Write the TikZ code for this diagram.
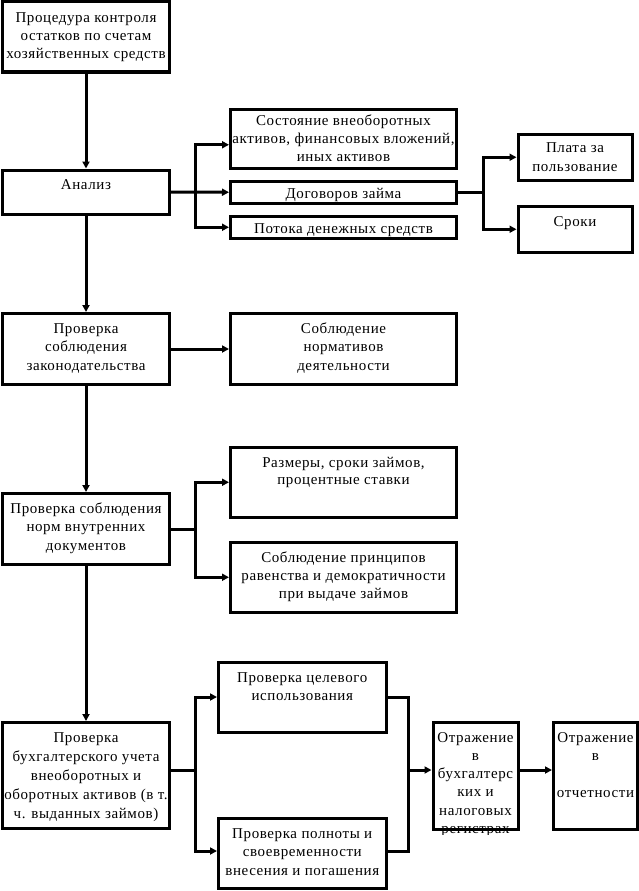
\documentclass[tikz,border=0pt]{standalone}
\usepackage{fontspec}
\setmainfont{Liberation Serif}[LetterSpace=4]
\usetikzlibrary{arrows.meta,calc}
\newcommand\tstr{\rule{0pt}{12pt}}
\begin{document}
\begin{tikzpicture}[x=1pt,y=-1pt,
  box/.style={draw, line width=3pt, inner sep=0pt, rectangle},
  txt/.style={anchor=north, inner sep=0pt, align=center},
  ls/.style={font=\fontsize{15}{#1}\selectfont},
  conn/.style={line width=3pt},
  arr/.style={conn, -{Triangle[length=7pt,width=7pt]}}]
\useasboundingbox (0,0) rectangle (639,891);

% boxes
\node[box, minimum width=167pt, minimum height=70.5pt] (b1) at (86,36.75) {};
\node[box, minimum width=167pt, minimum height=44pt] (b2) at (86,192) {};
\node[box, minimum width=226pt, minimum height=58.5pt] (b3) at (343.5,138.75) {};
\node[box, minimum width=226pt, minimum height=21.5pt] (b4) at (343.5,192.25) {};
\node[box, minimum width=226pt, minimum height=21.5pt] (b5) at (343.5,227.25) {};
\node[box, minimum width=114pt, minimum height=46.5pt] (b6) at (575,157.25) {};
\node[box, minimum width=114pt, minimum height=45.5pt] (b7) at (575,229.25) {};
\node[box, minimum width=167pt, minimum height=71pt] (b8) at (86,349) {};
\node[box, minimum width=226pt, minimum height=71pt] (b9) at (343.5,349) {};
\node[box, minimum width=226pt, minimum height=70.5pt] (b10) at (343.5,482.25) {};
\node[box, minimum width=167pt, minimum height=71pt] (b11) at (86,529) {};
\node[box, minimum width=226pt, minimum height=70.5pt] (b12) at (343.5,577.25) {};
\node[box, minimum width=167pt, minimum height=105.5pt] (b13) at (86,775.25) {};
\node[box, minimum width=167.5pt, minimum height=69.5pt] (b14) at (302.25,697.25) {};
\node[box, minimum width=167.5pt, minimum height=70pt] (b15) at (302.25,853) {};
\node[box, minimum width=85pt, minimum height=107pt] (b16) at (475.5,775.5) {};
\node[box, minimum width=84pt, minimum height=107pt] (b17) at (595.5,775.5) {};

% texts
\node[txt, ls=18] (t1) at (86,10) {\tstr Процедура контроля\\остатков по счетам\\хозяйственных средств};
\node[txt, ls=18] (t2) at (86,177) {\tstr Анализ};
\node[txt, ls=18] (t3) at (343.5,113) {\tstr Состояние внеоборотных\\активов, финансовых вложений,\\иных активов};
\node[txt, ls=18] (t4) at (343.5,186) {\tstr Договоров займа};
\node[txt, ls=18] (t5) at (343.5,221) {\tstr Потока денежных средств};
\node[txt, ls=19] (t6) at (575,140) {\tstr Плата за\\пользование};
\node[txt, ls=18] (t7) at (575,214) {\tstr Сроки};
\node[txt, ls=18.5] (t8) at (86,321) {\tstr Проверка\\соблюдения\\законодательства};
\node[txt, ls=18.5] (t9) at (343.5,321) {\tstr Соблюдение\\нормативов\\деятельности};
\node[txt, ls=17.5] (t10) at (343.5,455) {\tstr Размеры, сроки займов,\\процентные ставки};
\node[txt, ls=18.5] (t11) at (86,501) {\tstr Проверка соблюдения\\норм внутренних\\документов};
\node[txt, ls=18] (t12) at (343.5,550) {\tstr Соблюдение принципов\\равенства и демократичности\\при выдаче займов};
\node[txt, ls=19] (t13) at (86,730) {\tstr Проверка\\бухгалтерского учета\\внеоборотных и\\оборотных активов (в т.\\ч. выданных займов)};
\node[txt, ls=18] (t14) at (302.25,670) {\tstr Проверка целевого\\использования};
\node[txt, ls=18.5] (t15) at (302.25,826) {\tstr Проверка полноты и\\своевременности\\внесения и погашения};
\begin{scope}
\clip (420,715) rectangle (530,834);
\node[txt, ls=18.2] (t16) at (475.5,730) {\tstr Отражение\\в\\бухгалтерс\\ких и\\налоговых\\регистрах};
\end{scope}
\node[txt, ls=18.3] (t17) at (595.5,730) {\tstr Отражение\\в\\\mbox{}\\отчетности};

% junction coordinates
\coordinate (j1) at ($(b2.east)+(24pt,0)$);
\coordinate (j2) at ($(b4.east)+(25pt,0)$);
\coordinate (j3) at ($(b11.east)+(24pt,0)$);
\coordinate (j5) at ($(b13.east)+(24pt,5pt)$);
\coordinate (j4) at (408.5,770);

% connectors
\draw[arr] (b1.south) -- (b2.north);
\draw[arr] (b2.south) -- (b8.north);
\draw[arr] (b8.south) -- (b11.north);
\draw[arr] (b11.south) -- (b13.north);

\draw[arr] (b2.east) -- (b4.west);
\draw[arr] (j1) |- ([yshift=-6pt]b3.west);
\draw[arr] (j1) |- (b5.west);

\draw[conn] (b4.east) -- (j2);
\draw[arr] (j2) |- (b6.west);
\draw[arr] (j2) |- (b7.west);

\draw[arr] (b8.east) -- (b9.west);

\draw[conn] (b11.east) -- (j3);
\draw[arr] (j3) |- (b10.west);
\draw[arr] (j3) |- (b12.west);

\draw[conn] ([yshift=5pt]b13.east) -- (j5);
\draw[arr] (j5) |- ([yshift=0.25pt]b14.west);
\draw[arr] (j5) |- ([yshift=2pt]b15.west);

\draw[conn] (b14.east) -| (j4) |- ([yshift=2pt]b15.east);
\draw[arr] (j4) -- (j4 -| b16.west);
\draw[arr] (j4 -| b16.east) -- (j4 -| b17.west);
\end{tikzpicture}
\end{document}
